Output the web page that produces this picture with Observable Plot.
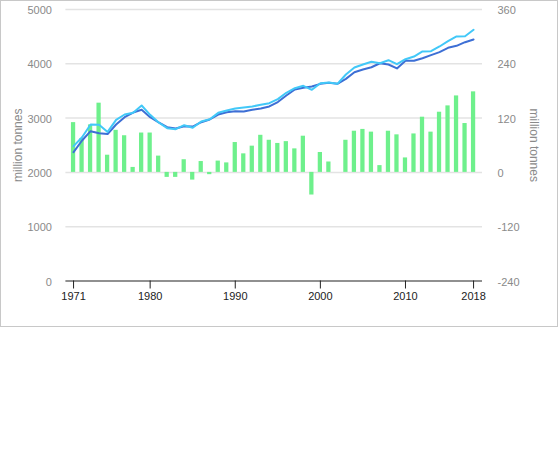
<!DOCTYPE html>
<html>
<head>
<meta charset="utf-8">
<script src="https://cdn.jsdelivr.net/npm/d3@7"></script>
<script src="https://cdn.jsdelivr.net/npm/@observablehq/plot@0.6"></script>
<style>
  body { margin: 0; background: #fff; font-family: "Liberation Sans", Arial, sans-serif; }
  #frame { position: absolute; left: 0; top: 0; width: 556px; height: 325px; border: 1px solid #c8c8c8; }
  #frame svg { display: block; }
</style>
</head>
<body>
<div id="frame"></div>
<script>
// Years shown on the horizontal axis
const years = d3.range(1971, 2019);

// Level series (left axis, million tonnes)
const seriesDark = [
  2372, 2587, 2759, 2722, 2705, 2882, 3017, 3103, 3153, 3017,
  2919, 2832, 2808, 2851, 2845, 2925, 2974, 3066, 3109, 3127,
  3122, 3153, 3177, 3214, 3295, 3416, 3527, 3558, 3582, 3631,
  3650, 3631, 3723, 3845, 3895, 3937, 4010, 3987, 3915, 4055,
  4055, 4103, 4159, 4214, 4295, 4331, 4398, 4448
];
const seriesLight = [
  2483, 2648, 2882, 2876, 2745, 2968, 3066, 3097, 3232, 3060,
  2919, 2814, 2796, 2869, 2821, 2937, 2980, 3097, 3140, 3177,
  3195, 3214, 3245, 3274, 3350, 3466, 3551, 3595, 3521, 3643,
  3656, 3631, 3803, 3932, 3987, 4037, 4011, 4066, 3993, 4085,
  4134, 4227, 4232, 4319, 4416, 4503, 4508, 4626
];

// Annual change (right axis, million tonnes)
const annualChange = [
  110, 75, 105, 153, 38, 93, 81, 11, 87, 87,
  36, -11, -11, 28, -17, 24, -5, 25, 21, 66,
  41, 58, 82, 71, 64, 68, 52, 80, -50, 44,
  23, 0, 71, 91, 95, 89, 15, 91, 83, 32,
  85, 122, 89, 133, 147, 169, 108, 178
];

// Axis ticks
const xTicks = [1971, 1980, 1990, 2000, 2010, 2018];
const leftTicks = [0, 1000, 2000, 3000, 4000, 5000];

// Right axis: 0 sits on the 2000 line, 120 units per 1000 left units
const rightZero = 2000;
const rightPerLeft = 120 / 1000;
const toLeft = r => rightZero + r / rightPerLeft;

const rows = years.map((year, i) => ({
  year,
  dark: seriesDark[i],
  light: seriesLight[i],
  change: annualChange[i]
}));

const axisText = "#8a8a8a";
const title = "million tonnes";

const chart = Plot.plot({
  width: 556,
  height: 325,
  marginLeft: 64.4,
  marginRight: 75,
  marginTop: 8,
  marginBottom: 45.5,
  style: { fontFamily: "Liberation Sans, Arial, sans-serif", fontSize: "11px", background: "#fff" },
  x: { type: "linear", domain: [1970.1, 2019.05] },
  y: { domain: [0, 5000] },
  marks: [
    Plot.gridY(leftTicks.filter(d => d > 0), { stroke: "#e3e3e3", strokeOpacity: 1, strokeWidth: 1.5 }),
    Plot.rectY(rows, {
      x1: d => d.year - 0.25,
      x2: d => d.year + 0.25,
      y1: rightZero,
      y2: d => toLeft(d.change),
      fill: "#6ef08c"
    }),
    Plot.line(rows, { x: "year", y: "dark", stroke: "#3d6fd5", strokeWidth: 2 }),
    Plot.line(rows, { x: "year", y: "light", stroke: "#42c8f8", strokeWidth: 2 }),
    Plot.ruleY([0], { stroke: "#222", strokeWidth: 1.2 }),
    Plot.axisX({
      ticks: xTicks, tickFormat: d => String(d), tickSize: 8, tickPadding: 3,
      stroke: "#222", fill: "#222", fontSize: 11, label: null
    }),
    Plot.axisY({
      anchor: "left", ticks: leftTicks, tickSize: 0, tickPadding: 14,
      tickFormat: d => String(d),
      fill: axisText, fontSize: 11, dy: 1, label: null
    }),
    Plot.axisY({
      anchor: "right", ticks: leftTicks, tickSize: 0, tickPadding: 15,
      tickFormat: d => String(Math.round((d - rightZero) * rightPerLeft)),
      fill: axisText, fontSize: 11, dy: 1, label: null
    }),
    Plot.text([title], {
      frameAnchor: "left", dx: -47.5, rotate: -90, textAnchor: "middle",
      lineAnchor: "middle", fill: axisText, fontSize: 12
    }),
    Plot.text([title], {
      frameAnchor: "right", dx: 51, rotate: 90, textAnchor: "middle",
      lineAnchor: "middle", fill: axisText, fontSize: 12
    })
  ]
});

document.getElementById("frame").appendChild(chart);
</script>
</body>
</html>
